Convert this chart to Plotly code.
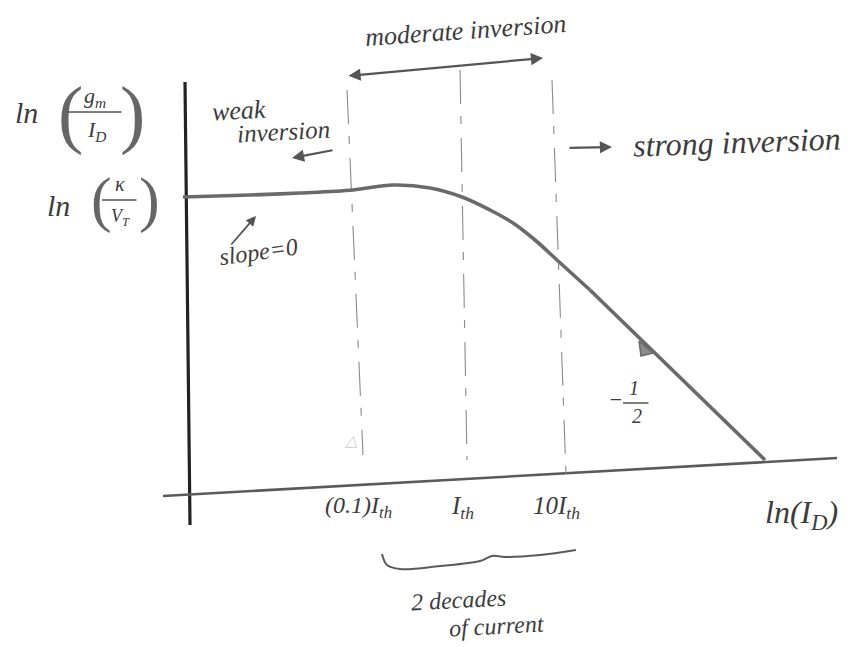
import plotly.graph_objects as go

# ---- data (x = log10(I_D / I_th) in decades, y = ln(gm/I_D) in sketch units) ----
curve_x = [-2.79, -2.12, -1.62, -1.09, -0.69, -0.32, 0.0, 0.28, 0.51, 0.73, 0.95, 1.28]
curve_y = [2.73, 2.75, 2.77, 2.80, 2.85, 2.82, 2.73, 2.60, 2.47, 2.30, 2.10, 1.80]
strong_x = [1.28, 3.03]          # strong-inversion asymptote, slope -1/2
strong_y = [1.80, 0.10]

yaxis_x = [-2.77, -2.72]
yaxis_y = [3.88, -0.55]
xaxis_x = [-2.99, 3.75]
xaxis_y = [-0.26, 0.12]

tick_pos = [-1, 0, 1]
tick_labels = ["(0.1)I<sub>th</sub>", "I<sub>th</sub>", "10I<sub>th</sub>"]
guide_top_x = [-1.15, -0.02, 0.90]
guide_top_y = [3.80, 4.00, 3.90]
guide_bot_x = [-0.99, 0.05, 1.04]
guide_bot_y = [0.15, 0.10, -0.05]

brace_x = [-0.80, -0.75, -0.62, -0.22, 0.18, 0.30, 0.43, 0.78, 1.14]
brace_y = [-0.84, -0.95, -0.99, -0.96, -0.91, -0.86, -0.87, -0.85, -0.80]

tri_x = [1.77, 1.79, 1.91, 1.77]
tri_y = [1.29, 1.14, 1.17, 1.29]

PENCIL = "#3c3c3c"
FONT = "Liberation Serif"


def P(px, py):
    """layout helper: sketch pixel position -> data units"""
    return (px - 462) / 100.0, (470 - py) / 100.0


fig = go.Figure()

# axes (hand drawn)
fig.add_trace(go.Scatter(x=yaxis_x, y=yaxis_y, mode="lines",
                         line=dict(color="#222222", width=3.2), hoverinfo="skip"))
fig.add_trace(go.Scatter(x=xaxis_x, y=xaxis_y, mode="lines",
                         line=dict(color="#5a5a5a", width=2.6), hoverinfo="skip"))

# dashed guide lines at (0.1)Ith, Ith, 10Ith
for i in range(len(tick_pos)):
    fig.add_trace(go.Scatter(x=[guide_top_x[i], guide_bot_x[i]],
                             y=[guide_top_y[i], guide_bot_y[i]], mode="lines",
                             line=dict(color="#8a8a8a", width=1.1, dash="34px,12px,8px,14px"),
                             hoverinfo="skip"))

# gm/ID curve
fig.add_trace(go.Scatter(x=curve_x, y=curve_y, mode="lines", line_shape="spline",
                         line=dict(color="#6a6a6a", width=3.6), hoverinfo="skip"))
fig.add_trace(go.Scatter(x=strong_x, y=strong_y, mode="lines",
                         line=dict(color="#6a6a6a", width=3.6), hoverinfo="skip"))

# slope marker
fig.add_trace(go.Scatter(x=tri_x, y=tri_y, mode="lines", fill="toself",
                         fillcolor="#8a8a8a", line=dict(color="#6a6a6a", width=1.5),
                         hoverinfo="skip"))

# brace
fig.add_trace(go.Scatter(x=brace_x, y=brace_y, mode="lines", line_shape="spline",
                         line=dict(color="#5a5a5a", width=2), hoverinfo="skip"))

ann = []


def text(px, py, s, size=18, angle=0, color=PENCIL, style="italic"):
    x, y = P(px, py)
    ann.append(dict(x=x, y=y, xref="x", yref="y", text=s, showarrow=False,
                    textangle=angle, xanchor="center", yanchor="middle",
                    font=dict(family=FONT, size=size, color=color, style=style)))


def arrow(hx, hy, tx, ty, both=False, width=2.2):
    x, y = P(hx, hy)
    ax, ay = P(tx, ty)
    ann.append(dict(x=x, y=y, ax=ax, ay=ay, xref="x", yref="y", axref="x", ayref="y",
                    text="", showarrow=True, arrowhead=2, arrowsize=1.1,
                    arrowwidth=width, arrowcolor="#555555",
                    arrowside="end+start" if both else "end"))


def bar(x0, x1, py, width=1.5):
    a, y = P(x0, py)
    b, _ = P(x1, py)
    ann.append(dict(x=a, y=y, ax=b, ay=y, xref="x", yref="y", axref="x", ayref="y",
                    text="", showarrow=True, arrowhead=0, arrowwidth=width,
                    arrowcolor="#555555"))


# tick labels
for i in range(len(tick_pos)):
    ann.append(dict(x=tick_pos[i], y=-0.37, xref="x", yref="y", text=tick_labels[i],
                    showarrow=False, xshift=[-4, 0, -6][i],
                    font=dict(family=FONT, size=[24, 25, 25][i], color=PENCIL,
                              style="italic")))

text(801, 514, "ln(I<sub>D</sub>)", size=32)

# y labels: ln(gm/ID)
text(26, 112, "ln", size=30)
text(70, 113, "(", size=76, color="#666666", style="normal")
text(132, 113, ")", size=76, color="#666666", style="normal")
text(95, 97, "g<sub>m</sub>", size=22)
text(96, 131, "I<sub>D</sub>", size=22)
bar(68, 123, 112, 1.6)
# ln(kappa/VT)
text(58, 205, "ln", size=30)
text(101, 199, "(", size=62, color="#666666", style="normal")
text(149, 199, ")", size=62, color="#666666", style="normal")
text(120, 184, "κ", size=20)
text(120, 217, "V<sub>T</sub>", size=18)
bar(102, 138, 200, 1.4)

# region notes
text(465, 30, "moderate inversion", size=26, angle=-4)
arrow(543, 58, 347, 76, both=True)
text(239, 110, "weak", size=26, angle=-3)
text(283, 131, "inversion", size=25, angle=-3)
arrow(292, 158, 334, 150)
arrow(612, 147, 568, 148)
text(737, 142, "strong inversion", size=32, angle=-2)
text(258, 252, "slope=0", size=24, angle=-8)
arrow(256, 216, 230, 246, width=1.8)

# -1/2
text(615, 399, "−", size=22)
text(634, 388, "1", size=20)
text(637, 416, "2", size=20)
bar(623, 650, 403, 1.4)

text(458, 600, "2 decades", size=24, angle=-3)
text(497, 626, "of current", size=24, angle=-3)
text(350, 440, "△", size=16, color="#cfcfcf")

fig.update_layout(
    width=862, height=647,
    margin=dict(l=0, r=0, t=0, b=0),
    paper_bgcolor="white", plot_bgcolor="white",
    showlegend=False,
    annotations=ann,
    xaxis=dict(range=[-4.62, 4.00], visible=False, fixedrange=True),
    yaxis=dict(range=[-1.77, 4.70], visible=False, fixedrange=True),
)

fig.write_html("out.html", config={"displayModeBar": False},
               post_script="document.body.style.margin='0';document.body.style.overflow='hidden';")
